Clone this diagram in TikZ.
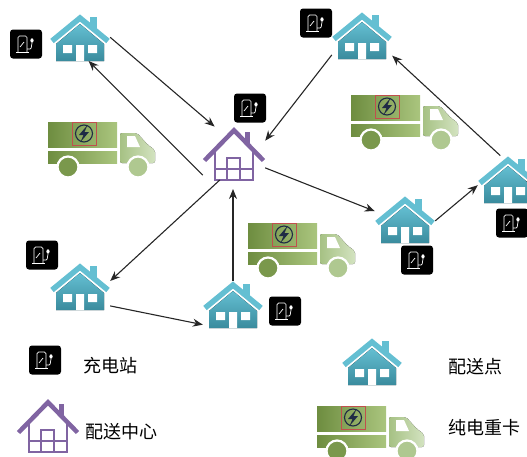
\documentclass[tikz,border=0pt]{standalone}
\usepackage{fontspec}
\newfontfamily\cjk{Noto Sans CJK SC}
\usetikzlibrary{arrows.meta}

\definecolor{tealtop}{HTML}{64BFD2}
\definecolor{tealbot}{HTML}{3A8B9D}
\definecolor{hubpurple}{HTML}{8064A2}
\definecolor{cargodark}{HTML}{6E8D40}
\definecolor{cargolight}{HTML}{AAC57E}
\definecolor{cabdark}{HTML}{A6C184}
\definecolor{cablight}{HTML}{D3E3C0}
\definecolor{boltnavy}{HTML}{1F2B45}
\definecolor{logored}{HTML}{C0504D}

\tikzset{
	% delivery point: teal house
	pics/depot/.style={code={
		\fill[top color=tealtop, bottom color=tealbot] (-24,0) -- (-24,-17) -- (0,-37) -- (24,-17) -- (24,0) -- cycle;
		\fill[white] (-17,-16) rectangle (-8,-8) (8,-16) rectangle (17,-8) (-4,-16) rectangle (4,0);
		\fill[tealtop] (10,-44) rectangle (17,-32);
		\draw[tealtop, line width=5.5pt, miter limit=20] (-28,-20) -- (0,-43) -- (28,-20);
	}},
	% distribution centre: purple outline house
	pics/hub/.style={code={
		\fill[hubpurple] (11,-48) rectangle (16,-37);
		\draw[hubpurple, line width=1.8pt] (-19,-28) -- (-19,0) -- (19,0) -- (19,-28);
		\draw[hubpurple, line width=1.4pt] (-7,0) -- (-7,-22) -- (6,-22) -- (6,0) (-19,-11) -- (19,-11);
		\draw[hubpurple, line width=4.5pt, miter limit=20] (-29.5,-19.5) -- (0,-49.7) -- (29.5,-19.5);
	}},
	% electric truck, origin at top left of the cargo box
	pics/truck/.style={code={
		\fill[left color=cargodark, right color=cargolight] (0,0) rectangle (69,25);
		\fill[left color=cargodark, right color=cargolight] (0,29) rectangle (69,41);
		\fill[left color=cabdark, right color=cablight, rounded corners=2pt] (72,11) -- (89,11) -- (100,23) -- (107,28) -- (107,41) -- (72,41) -- cycle;
		\fill[white] (79,14) -- (87,14) -- (92,25) -- (79,25) -- cycle;
		\fill[cargodark!80!cargolight, draw=white, line width=2.2pt] (20,45) circle (10.5);
		\fill[cabdark!80!cablight, draw=white, line width=2.2pt] (90,45) circle (10.5);
		% lightning logo
		\draw[logored, line width=0.9pt] (24,0.5) rectangle (48,23);
		\draw[boltnavy, line width=1.1pt] (36,11.5) circle (8.5);
		\fill[boltnavy] (39.5,3) -- (31,13) -- (35.5,13) -- (32.5,20) -- (41,10) -- (36.5,10) -- cycle;
	}},
	% charger glyph
	pics/pump/.style={code={
		\draw[white, line width=0.7pt, rounded corners=1.5pt] (-8,8) -- (-8,-8) -- (1,-8) -- (1,8);
		\draw[white, line width=0.7pt] (-10,8.5) -- (3,8.5);
		\draw[white, line width=0.7pt] (-6,3) -- (-2,-2);
		\draw[white, line width=0.7pt, rounded corners=1pt] (1,5) -- (5,5) -- (6,-1);
		\fill[white] (6,-3.5) ellipse (1.6 and 2.2);
	}},
	spot/.style={minimum width=60pt, minimum height=47pt, inner sep=0pt, anchor=south},
	hubspot/.style={minimum width=62pt, minimum height=53pt, inner sep=0pt, anchor=south},
	station/.style={fill=black, rounded corners=3pt, minimum width=32pt, minimum height=29pt, inner sep=0pt},
	route/.style={-{Stealth[length=10pt, width=8pt]}, line width=1.1pt, black!85},
	legendtext/.style={anchor=west, font=\cjk\fontsize{18}{21}\selectfont, inner sep=0pt}
}

\begin{document}
\begin{tikzpicture}[x=1pt, y=-1pt]
	%\draw[help lines] (0,0) grid (527,456);
	\useasboundingbox (0,0) rectangle (527,456);
	\clip (0,0) rectangle (527,456);

	% delivery points
	\foreach \n/\x/\y in {h1/80/61, h2/362/59, h3/508/203, h4/405/243, h5/233/328, h6/80/310, k1/372/385}{
		\node[spot] (\n) at (\x,\y) {};
		\pic at (\n.south) {depot};
	}

	% distribution centre
	\node[hubspot] (dc) at (234,180) {};
	\pic at (dc.south) {hub};
	\node[hubspot] (k2) at (48,452) {};
	\pic at (k2.south) {hub};

	% trucks
	\foreach \x/\y in {48/122, 351/95, 248/223, 317/406}
		\pic at (\x,\y) {truck};

	% routes
	\draw[route] (h1.east) -- (dc.126);
	\draw[route] (dc.215) -- (h1.-70);
	\draw[route] (h2.213) -- (dc.22);
	\draw[route] (dc.-25) -- (h4.165);
	\draw[route] (h4.-3) -- (h3.191);
	\draw[route] (h3.108) -- (h2.-34);
	\draw[route] (dc.242) -- (h6.10);
	\draw[route] (h6.-33) -- (h5.214);
	\draw[route, shorten >=9pt] (h5.north) -- (h5.north |- dc.south);

	% charging stations
	\foreach \n/\x/\y in {c1/26/44, c2/250/108, c3/316/23, c4/512/223, c5/417/260, c6/285/311, c7/42/255, k3/45/360}{
		\node[station] (\n) at (\x,\y) {};
		\pic at (\n) {pump};
	}

	% legend
	\node[legendtext] (t1) at (83,366) {充电站};
	\node[legendtext] (t2) at (85,432) {配送中心};
	\node[legendtext] (t3) at (448,367) {配送点};
	\node[legendtext] (t4) at (448,428) {纯电重卡};
\end{tikzpicture}
\end{document}
